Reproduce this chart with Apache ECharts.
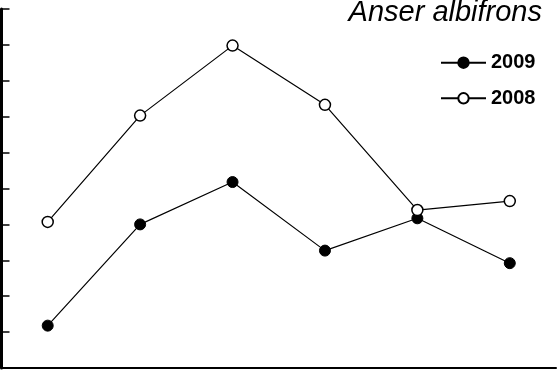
<!DOCTYPE html>
<html>
<head>
<meta charset="utf-8">
<script src="https://cdn.jsdelivr.net/npm/echarts@6/dist/echarts.min.js"></script>
<style>
	html, body { margin: 0; padding: 0; background: #fff; }
	#chart { width: 558px; height: 376px; }
</style>
</head>
<body>
<div id="chart"></div>
<script>
	// categories (labels are cut off in the source picture)
	const categories = ['1', '2', '3', '4', '5', '6']
	const data2009 = [1.18, 4.0, 5.18, 3.27, 4.17, 2.92]
	const data2008 = [4.07, 7.03, 8.98, 7.33, 4.4, 4.65]
	const yMin = 0
	const yMax = 10
	const yStep = 1

	const font = 'Liberation Sans, Arial, sans-serif'

	let option = {
		animation: false,
		title: {
			text: 'Anser albifrons',
			right: 16,
			top: -2,
			padding: 0,
			textStyle: {
				color: '#000',
				fontFamily: font,
				fontStyle: 'italic',
				fontWeight: 'normal',
				fontSize: 29
			}
		},
		legend: {
			orient: 'vertical',
			left: 440,
			top: 52.7,
			padding: 0,
			itemWidth: 45,
			itemHeight: 13,
			itemGap: 15.6,
			textStyle: {
				color: '#000',
				fontFamily: font,
				fontWeight: 'bold',
				fontSize: 20
			},
			data: ['2009', '2008']
		},
		grid: {
			top: 9,
			left: 1.5,
			right: 2,
			bottom: 8
		},
		xAxis: {
			type: 'category',
			data: categories,
			boundaryGap: true,
			axisLine: {
				lineStyle: { color: '#000', width: 2 }
			},
			axisTick: {
				inside: false,
				length: 9,
				lineStyle: { color: '#000', width: 2 }
			},
			axisLabel: { show: false },
			splitLine: { show: false }
		},
		yAxis: {
			type: 'value',
			min: yMin,
			max: yMax,
			interval: yStep,
			axisLine: {
				show: true,
				lineStyle: { color: '#000', width: 3 }
			},
			axisTick: {
				show: true,
				inside: true,
				length: 8,
				lineStyle: { color: '#000', width: 1.5 }
			},
			axisLabel: { show: false },
			splitLine: { show: false }
		},
		series: [{
			name: '2009',
			type: 'line',
			data: data2009,
			symbol: 'circle',
			symbolSize: 11,
			lineStyle: { color: '#000', width: 1.2 },
			itemStyle: { color: '#000', borderColor: '#000', borderWidth: 1 }
		}, {
			name: '2008',
			type: 'line',
			data: data2008,
			symbol: 'circle',
			symbolSize: 11,
			lineStyle: { color: '#000', width: 1.2 },
			itemStyle: { color: '#fff', borderColor: '#000', borderWidth: 1.5 }
		}]
	}

	const dom = echarts.init(document.getElementById('chart'))
	dom.setOption(option)
</script>
</body>
</html>
